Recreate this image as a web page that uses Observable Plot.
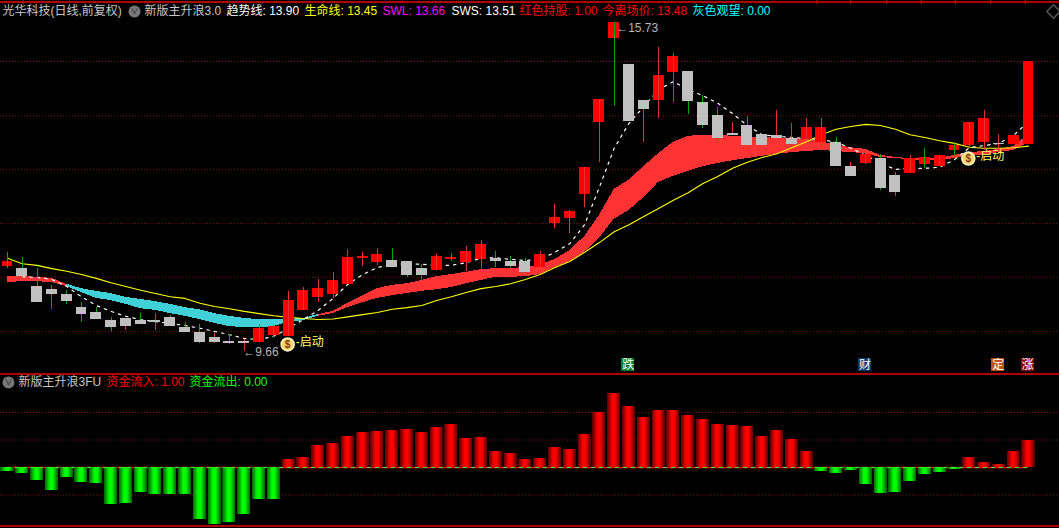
<!DOCTYPE html>
<html>
<head>
<meta charset="utf-8">
<script src="https://cdn.jsdelivr.net/npm/d3@7"></script>
<script src="https://cdn.jsdelivr.net/npm/@observablehq/plot@0.6"></script>
<style>
html,body{margin:0;padding:0;background:#000;overflow:hidden;width:1059px;height:528px}
#app svg{display:block}
</style>
</head>
<body>
<div id="app"></div>
<script>
const opens = [
11.23,11.19,10.86,10.80,10.71,10.47,10.38,10.23,10.27,10.23,
10.23,10.29,10.10,10.01,9.92,9.84,9.84,9.83,9.96,9.94,
10.42,10.66,10.71,10.90,11.38,11.30,11.34,11.32,11.19,11.15,
11.36,11.30,11.36,11.38,11.32,11.32,11.21,12.02,12.11,12.56,
13.88,15.43,14.96,14.29,14.29,14.81,14.83,14.25,14.01,13.68,
13.83,13.66,13.65,13.59,13.57,13.52,13.52,13.07,13.13,13.22,
12.91,12.94,13.11,13.07,13.37,13.46,13.52,13.50,13.48,13.48];
const closes = [
11.32,11.04,10.56,10.71,10.58,10.34,10.25,10.10,10.12,10.16,
10.20,10.12,10.01,9.83,9.83,9.81,9.81,10.09,10.12,10.60,
10.79,10.82,10.97,11.39,11.41,11.45,11.21,11.06,11.06,11.41,
11.39,11.50,11.63,11.32,11.23,11.12,11.45,12.13,12.24,13.05,
14.31,15.73,13.90,14.12,14.75,15.10,14.27,13.83,13.59,13.65,
13.46,13.46,13.59,13.48,13.79,13.79,13.07,12.89,13.30,12.67,
12.59,13.22,13.24,13.28,13.46,13.88,13.96,13.48,13.65,15.01];
const highs = [
11.49,11.39,11.19,10.88,10.79,10.56,10.47,10.29,10.27,10.36,
10.36,10.32,10.20,10.16,9.99,9.97,9.88,10.16,10.14,10.77,
10.84,10.99,11.12,11.54,11.49,11.56,11.56,11.32,11.27,11.45,
11.47,11.60,11.71,11.50,11.41,11.38,11.50,12.37,12.26,13.05,
14.31,15.73,14.96,14.29,15.27,15.16,14.83,14.38,14.16,13.89,
14.00,13.66,14.11,13.87,13.96,13.96,13.61,13.15,13.31,13.30,
12.96,13.28,13.41,13.28,13.52,13.88,14.11,13.66,14.38,15.01];
const lows = [
11.19,11.03,10.56,10.44,10.53,10.20,10.25,10.03,10.05,10.16,
10.05,10.12,10.01,9.81,9.81,9.79,9.66,9.83,9.92,9.94,
10.42,10.56,10.64,10.90,11.23,11.25,11.21,11.03,10.95,11.15,
11.32,11.14,11.17,11.21,11.19,11.10,11.21,11.93,11.84,12.32,
13.15,14.18,13.90,13.52,13.96,14.25,14.03,13.77,13.52,13.65,
13.37,13.46,13.59,13.42,13.57,13.41,13.07,12.89,13.11,12.63,
12.52,12.94,13.04,13.07,13.26,13.41,13.37,13.30,13.48,13.37];
const wickKinds =
"gggggggg"+"rgrgggrgrrgrrrrrrrggrrgrggggrrrrrgrrrggggrgrrgrggrrgrrgrggrr";
const lifeLine = [
11.38,11.28,11.25,11.19,11.14,11.08,11.01,10.93,10.86,10.79,
10.73,10.67,10.64,10.55,10.49,10.45,10.40,10.36,10.32,10.29,
10.27,10.25,10.26,10.30,10.34,10.38,10.44,10.47,10.51,10.60,
10.67,10.75,10.82,10.86,10.91,10.99,11.08,11.21,11.32,11.49,
11.67,11.87,12.00,12.15,12.30,12.45,12.59,12.76,12.89,13.04,
13.15,13.24,13.31,13.42,13.53,13.66,13.76,13.81,13.85,13.83,
13.76,13.66,13.61,13.55,13.50,13.43,13.41,13.41,13.42,13.45];
const swl = [
11.04,11.04,11.03,11.01,10.90,10.82,10.77,10.73,10.66,10.62,
10.58,10.53,10.47,10.43,10.36,10.31,10.27,10.25,10.25,10.25,
10.27,10.34,10.40,10.55,10.69,10.82,10.88,10.91,10.97,11.04,
11.08,11.12,11.17,11.19,11.19,11.21,11.25,11.36,11.52,11.78,
12.17,12.65,12.82,13.07,13.31,13.52,13.63,13.65,13.65,13.63,
13.61,13.61,13.59,13.59,13.57,13.53,13.46,13.42,13.39,13.28,
13.24,13.22,13.22,13.22,13.28,13.33,13.35,13.39,13.44,13.66];
const sws = [
10.93,10.95,10.95,10.93,10.86,10.75,10.64,10.60,10.53,10.45,
10.42,10.36,10.31,10.25,10.18,10.12,10.10,10.10,10.12,10.20,
10.23,10.31,10.36,10.47,10.56,10.64,10.69,10.73,10.77,10.80,
10.84,10.91,10.97,11.03,11.03,11.04,11.08,11.21,11.32,11.49,
11.75,12.10,12.26,12.50,12.78,12.89,12.98,13.07,13.13,13.18,
13.22,13.26,13.30,13.33,13.35,13.37,13.35,13.33,13.31,13.24,
13.22,13.20,13.18,13.18,13.22,13.26,13.28,13.33,13.37,13.51];
const trendLine = [
null,11.04,11.03,10.99,10.86,10.67,10.51,10.40,10.31,10.25,
10.21,10.18,10.14,10.09,10.03,9.97,9.90,9.88,9.94,10.09,
10.25,10.42,10.64,10.90,11.08,11.21,11.27,11.28,11.27,11.25,
11.25,11.30,11.38,11.39,11.36,11.34,11.36,11.49,11.65,12.00,
12.69,13.41,13.87,14.18,14.49,14.64,14.49,14.38,14.24,14.05,
13.83,13.66,13.63,13.61,13.59,13.57,13.52,13.41,13.28,13.13,
13.02,13.04,13.04,13.06,13.20,13.42,13.46,13.50,13.65,13.90];
const flow = [
-0.15,-0.22,-0.47,-0.84,-0.36,-0.55,-0.58,-1.35,-1.31,-0.91,
-0.98,-0.98,-0.98,-1.89,-2.07,-2.00,-1.71,-1.16,-1.16,0.29,
0.36,0.80,0.87,1.13,1.27,1.31,1.35,1.38,1.27,1.45,
1.56,1.05,1.09,0.58,0.51,0.29,0.33,0.73,0.65,1.20,
2.00,2.69,2.22,1.82,2.07,2.07,1.89,1.75,1.56,1.53,
1.49,1.13,1.35,1.02,0.58,-0.15,-0.22,-0.11,-0.62,-0.95,
-0.91,-0.51,-0.25,-0.18,-0.07,0.36,0.18,0.11,0.58,0.98];
const gridPrices = [15.01,14.01,13.02,12.02,11.03,10.03];
const gridFlow = [2,1,-1];
const topTicks = [1.08,54.66,57,59.4,61.75,64.1,66.4,68.8];
const startSignals = [19,65];
const startPrices = [9.79,13.22];
const tagIndex = [42,58,67,69];
const tagText = ["跌","财","定","涨"];
const tagFill = ["#00802a","#0d3a70","#c0500f","#8a0a0a"];
const headerText = ["光华科技(日线,前复权)","新版主升浪3.0","趋势线: 13.90","生命线: 13.45","SWL: 13.66","SWS: 13.51","红色持股: 1.00","今离场价: 13.48","灰色观望: 0.00"];
const headerFill = ["#c8c8c8","#c8c8c8","#ffffff","#ffff00","#ff00ff","#ffffff","#ff0000","#ff0000","#00ffff"];
const subText = ["新版主升浪3FU","资金流入: 1.00","资金流出: 0.00"];
const subFill = ["#c8c8c8","#ff0000","#00ff00"];

const FONT = '"Liberation Sans","Noto Sans CJK SC",sans-serif';
const candles = d3.range(70).map(i => ({i, open:opens[i], close:closes[i], high:highs[i], low:lows[i],
  wick:wickKinds[i], up:closes[i] > opens[i],
  life:lifeLine[i], swl:swl[i], sws:sws[i], trend:trendLine[i], flow:flow[i]}));
const signals = startSignals.map((i,k)=>({i, p:startPrices[k]}));
const body = 0.37, bar = 0.44;
const xOpts = {domain:[0,69], range:[7,1028], axis:null};
const bandOf = (a,b,fill) => Plot.areaY(candles.slice(a,b+1), {x:"i", y1:"swl", y2:"sws", fill, shapeRendering:"crispEdges"});

const headerDx = [2,144,226,304,382,451,519,602,692];
const topPanel = Plot.plot({
  width:1059, height:372, marginTop:0, marginBottom:0, marginLeft:0, marginRight:0,
  x:xOpts, y:{domain:[9.273,16.136], axis:null},
  style:{background:"#000"},
  marks:[
    Plot.ruleY([16.10], {stroke:"#b00000", strokeWidth:2, shapeRendering:"crispEdges"}),
    Plot.ruleX(topTicks, {y1:16.136, y2:16.07, stroke:"#b00000", shapeRendering:"crispEdges"}),
    Plot.ruleY(gridPrices, {stroke:"#7a1414", strokeDasharray:"1,2"}),
    bandOf(0,4,"#ff3333"), bandOf(4,21,"#40d0d8"), bandOf(21,69,"#ff3333"),
    Plot.line(candles, {x:"i", y:"life", stroke:"#ffff00", strokeWidth:1.1}),
    Plot.line(candles.slice(1), {x:"i", y:"trend", stroke:"#ffffff", strokeWidth:1.2, strokeDasharray:"2.5,5"}),
    Plot.rect(candles.filter(d=>d.up), {x1:d=>d.i-body, x2:d=>d.i+body, y1:"open", y2:"close", fill:"#ff0000", shapeRendering:"crispEdges"}),
    Plot.ruleX(candles.filter(d=>d.wick==="r"), {x:"i", y1:"low", y2:"high", stroke:"#e83030", strokeWidth:1, shapeRendering:"crispEdges"}),
    Plot.ruleX(candles.filter(d=>d.wick==="g"), {x:"i", y1:"low", y2:"high", stroke:"#00a800", strokeWidth:1, shapeRendering:"crispEdges"}),
    Plot.rect(candles.filter(d=>!d.up), {x1:d=>d.i-body, x2:d=>d.i+body, y1:"open", y2:"close", fill:"#c0c0c0", shapeRendering:"crispEdges"}),
    // start signals
    Plot.dot(signals, {x:"i", y:"p", dx:-1, r:6.5, fill:"#f2d468", stroke:"#fff6c8", strokeWidth:1.5}),
    Plot.text(signals, {x:"i", y:"p", dx:-1, text:()=>"$", fill:"#8a3a10", fontSize:10, fontWeight:"bold", fontFamily:FONT}),
    Plot.text(signals, {x:"i", y:"p", dy:-2, dx:7, text:()=>"-启动", fill:"#ffff66", fontSize:12, textAnchor:"start", fontFamily:FONT}),
    // extremes
    Plot.text([{i:41,p:15.73}], {x:"i", y:"p", dx:2, dy:6, text:d=>"←"+d.p.toFixed(2), fill:"#b8b8b8", fontSize:12, textAnchor:"start", fontFamily:FONT}),
    Plot.text([{i:16,p:9.66}], {x:"i", y:"p", dx:-1, dy:1, text:d=>"←"+d.p.toFixed(2), fill:"#b8b8b8", fontSize:12, textAnchor:"start", fontFamily:FONT}),
    // event tags
    Plot.rect(tagIndex, {x1:d=>d-bar-0.05, x2:d=>d+bar-0.05, y1:9.285, y2:9.525, fill:(d,k)=>tagFill[k], shapeRendering:"crispEdges"}),
    Plot.text(tagIndex, {x:d=>d-0.05, y:9.405, text:(d,k)=>tagText[k], fill:"#ffffff", fontSize:12, fontFamily:FONT}),
    // header
    ...headerText.map((t,k)=>Plot.text([t], {frameAnchor:"top-left", dx:headerDx[k], dy:11, text:d=>d, lineAnchor:"middle", textAnchor:"start", fill:headerFill[k], fontSize:12, fontFamily:FONT})),
    Plot.dot([0], {frameAnchor:"top-left", dx:134, dy:11, r:6, fill:"#777777"}),
    Plot.text(["∨"], {frameAnchor:"top-left", dx:134, dy:11, text:d=>d, lineAnchor:"middle", textAnchor:"middle", fill:"#222", fontSize:8, fontFamily:FONT}),
    Plot.dot([0], {frameAnchor:"top-right", dx:-6, dy:11, r:6, symbol:"diamond2", stroke:"#555555", fill:"none"})
  ]
});

const grad = (id, edge, mid) => () => {
  const defs = d3.create("svg:defs");
  const g = defs.append("linearGradient").attr("id", id).attr("x1",0).attr("x2",1).attr("y1",0).attr("y2",0);
  [[0,edge],[0.4,mid],[0.6,mid],[1,edge]].forEach(([o,c]) => g.append("stop").attr("offset",o).attr("stop-color",c));
  return defs.node();
};
const subDx = [18,106,189];
const bottomPanel = Plot.plot({
  width:1059, height:156, marginTop:0, marginBottom:0, marginLeft:0, marginRight:0,
  x:xOpts, y:{domain:[-2.218,3.4545], axis:null},
  style:{background:"#000"},
  marks:[
    grad("gRed","#5a0000","#ff0000"),
    grad("gGreen","#006000","#00ff00"),
    Plot.ruleY([3.40,-2.145], {stroke:"#b00000", strokeWidth:2, shapeRendering:"crispEdges"}),
    Plot.ruleY(gridFlow, {stroke:"#7a1414", strokeDasharray:"1,2"}),
    Plot.ruleY([0], {x1:0, x2:69, stroke:"#ff0000", strokeWidth:1.5}),
    Plot.rect(candles.filter(d=>d.flow>=0), {x1:d=>d.i-bar, x2:d=>d.i+bar, y1:0, y2:"flow", fill:"url(#gRed)", shapeRendering:"crispEdges"}),
    Plot.rect(candles.filter(d=>d.flow<0), {x1:d=>d.i-bar, x2:d=>d.i+bar, y1:0, y2:"flow", fill:"url(#gGreen)", shapeRendering:"crispEdges"}),
    Plot.ruleY([0], {x1:0, x2:69, stroke:"#33ee33", strokeWidth:1.2, strokeDasharray:"4,4"}),
    ...subText.map((t,k)=>Plot.text([t], {frameAnchor:"top-left", dx:subDx[k], dy:10, text:d=>d, lineAnchor:"middle", textAnchor:"start", fill:subFill[k], fontSize:12, fontFamily:FONT})),
    Plot.dot([0], {frameAnchor:"top-left", dx:8, dy:10, r:6, fill:"#777777"}),
    Plot.text(["∨"], {frameAnchor:"top-left", dx:8, dy:10, text:d=>d, lineAnchor:"middle", textAnchor:"middle", fill:"#222", fontSize:8, fontFamily:FONT})
  ]
});
document.getElementById("app").append(topPanel, bottomPanel);
</script>
</body>
</html>
